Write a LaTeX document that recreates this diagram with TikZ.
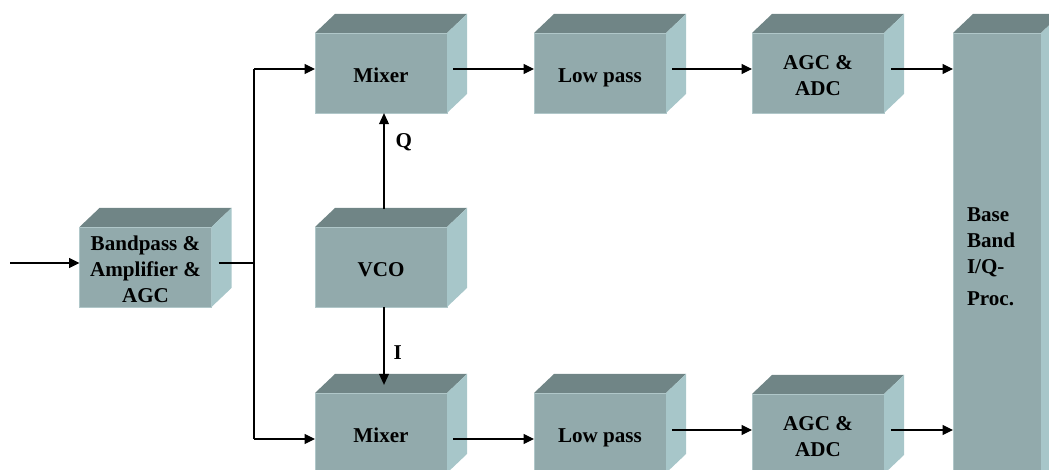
\documentclass[tikz,border=0pt]{standalone}
\usepackage{fontspec}
\setmainfont{Liberation Serif}
\usetikzlibrary{arrows.meta,positioning}
\definecolor{frontc}{RGB}{146,170,172}
\definecolor{topc}{RGB}{112,133,134}
\definecolor{sidec}{RGB}{167,198,201}
\definecolor{edgec}{RGB}{176,199,201}

% top and side face of a block
\newcommand{\blockfaces}[1]{%
  \fill[topc] (#1.north west) -- ++(0.5,0.475) -- ([shift={(0.5,0.475)}]#1.north east) -- (#1.north east) -- cycle;
  \fill[sidec] (#1.north east) -- ++(0.5,0.475) -- ([shift={(0.5,0.475)}]#1.south east) -- (#1.south east) -- cycle;
}
% taller first line, so that stacked text sits a little lower
\newcommand{\lowr}{\rule{0pt}{0.47cm}}

\begin{document}
\begin{tikzpicture}[
  font=\fontsize{15}{18.5}\selectfont\bfseries,
  face/.style={rectangle, fill=frontc, draw=edgec, line width=0.4pt,
               inner sep=0pt, outer sep=0pt},
  blk/.style={face, minimum width=3.3cm, minimum height=2cm, align=center,
              execute at begin node={\rule{0pt}{0.5cm}}},
  wire/.style={line width=0.9pt},
  sig/.style={wire, -{Triangle[length=2.6mm,width=2.5mm]}},
  lo/.style={line width=1.5pt, -{Triangle[length=2.8mm,width=2.4mm]}},
]
\clip (0,0) rectangle (26.225,11.75);

% ---------------- blocks ----------------
\node[blk] (bp)   at (3.6375,5.075) {\lowr Bandpass \&\\Amplifier \&\\AGC};
\node[blk] (mixA) at (9.525,9.925)  {Mixer};
\node[blk] (vco)  at (9.525,5.075)  {VCO};
\node[blk] (mixB) at (9.525,0.925)  {Mixer};
\node[blk] (lpA)  at (15.0,9.925)   {\smash{Low pass}};
\node[blk] (lpB)  at (15.0,0.925)   {\smash{Low pass}};
\node[blk] (agcA) at (20.45,9.925)  {\lowr AGC \&\\ADC};
\node[blk] (agcB) at (20.45,0.9)    {\lowr AGC \&\\ADC};
\node[face, minimum width=2.2cm, minimum height=11.175cm, text width=1.5cm,
      align=left] (base) at (24.925,5.3375) {Base\\Band\\I/Q-\\[0.15cm]Proc.};

\foreach \b in {bp,mixA,vco,mixB,lpA,lpB,agcA,agcB,base} {\blockfaces{\b}}

% ---------------- signal path ----------------
\coordinate (in) at (0.25,5.175);
\coordinate (jn) at (6.35,5.175);
\coordinate (jq) at (6.35,10.025);
\coordinate (ji) at (6.35,0.775);
\coordinate (rb) at (20.45,1.0);

\draw[sig] (in) -- (in -| bp.west);
\draw[wire] ([xshift=1.75mm]in -| bp.east) -- (jn);
\draw[wire, line width=1.4pt] (jq) -- (ji);

% upper branch
\draw[sig] (jq) -- (jq -| mixA.west);
\draw[sig] ([xshift=1.5mm]jq -| mixA.east) -- (jq -| lpA.west);
\draw[sig] ([xshift=1.5mm]jq -| lpA.east) -- (jq -| agcA.west);
\draw[sig] ([xshift=1.75mm]jq -| agcA.east) -- (jq -| base.west);

% lower branch
\draw[sig] (ji) -- (ji -| mixB.west);
\draw[sig] ([xshift=1.5mm]ji -| mixB.east) -- (ji -| lpB.west);
\draw[sig] ([xshift=1.5mm]rb -| lpB.east) -- (rb -| agcB.west);
\draw[sig] ([xshift=1.75mm]rb -| agcB.east) -- (rb -| base.west);

% local oscillator
\draw[lo] ([shift={(0.075,0.45)}]vco.north) -- node[pos=0.7, right=1.5mm] {Q} ([xshift=0.075cm]mixA.south);
\draw[lo] ([xshift=0.075cm]vco.south) -- node[pos=0.58, right=1mm] {I} ([shift={(0.075,0.2)}]mixB.north);

\end{tikzpicture}
\end{document}
